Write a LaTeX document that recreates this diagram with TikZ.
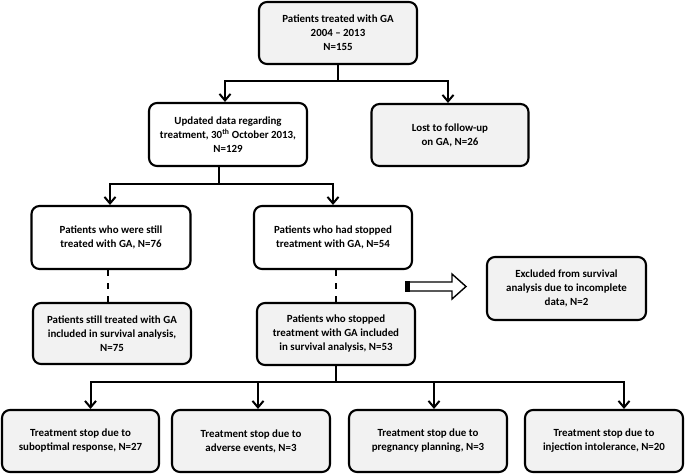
\documentclass[tikz,border=0pt]{standalone}
\usepackage{fontspec}
\setmainfont{Carlito}
\usetikzlibrary{arrows.meta}
\definecolor{boxgray}{HTML}{F2F2F2}
\begin{document}
\begin{tikzpicture}[x=1pt,y=-1pt,
  box/.style={draw=black, line width=2.1pt, rounded corners=8pt, align=center,
    font=\fontsize{10.9}{14}\selectfont\bfseries, inner sep=0pt, fill=white},
  gbox/.style={box, fill=boxgray},
  link/.style={line width=2pt},
  arr/.style={line width=2pt, -{Straight Barb[length=6.5pt,width=11pt,line width=2pt]}},
  dashlink/.style={line width=2pt, dash pattern=on 6pt off 7pt}]
\useasboundingbox (0,0) rectangle (685,475);
\node[gbox, minimum width=158pt, minimum height=62pt] (top) at (338,33) {Patients treated with GA\\2004 -- 2013\\N=155};
\node[box, minimum width=158pt, minimum height=63pt] (upd) at (228,134.5) {Updated data regarding\\treatment, 30\textsuperscript{th} October 2013,\\N=129};
\node[gbox, minimum width=157pt, minimum height=62pt] (lost) at (450,135) {Lost to follow-up\\on GA, N=26};
\node[box, minimum width=159pt, minimum height=63pt] (still) at (111,237.5) {Patients who were still\\treated with GA, N=76};
\node[box, minimum width=158pt, minimum height=63pt] (stopped) at (333,237.5) {Patients who had stopped\\treatment with GA, N=54};
\node[gbox, minimum width=159pt, minimum height=63pt] (excl) at (566.5,288.5) {Excluded from survival\\analysis due to incomplete\\data, N=2};
\node[gbox, minimum width=158pt, minimum height=61pt] (stillinc) at (112,333.5) {Patients still treated with GA\\included in survival analysis,\\N=75};
\node[gbox, minimum width=158pt, minimum height=62pt] (stopinc) at (336,334) {Patients who stopped\\treatment with GA included\\in survival analysis, N=53};
\node[gbox, minimum width=157pt, minimum height=62pt] (b1) at (80.5,441) {Treatment stop due to\\suboptimal response, N=27};
\node[gbox, minimum width=158pt, minimum height=62pt] (b2) at (251,441) {Treatment stop due to\\adverse events, N=3};
\node[gbox, minimum width=158pt, minimum height=62pt] (b3) at (428,441) {Treatment stop due to\\pregnancy planning, N=3};
\node[gbox, minimum width=158pt, minimum height=62pt] (b4) at (604,441) {Treatment stop due to\\injection intolerance, N=20};
% top split
\coordinate (j1) at ([yshift=-16pt]top.south);
\draw[link] (top.south) -- (j1);
\draw[arr] (j1) -| ([xshift=-3pt]upd.north);
\draw[arr] (j1) -| ([xshift=-2pt]lost.north);
% second split
\coordinate (j2) at ([xshift=-9pt,yshift=-17pt]upd.south);
\draw[link] ([xshift=-9pt]upd.south) -- (j2);
\draw[arr] (j2) -| ([xshift=-1pt]still.north);
\draw[arr] (j2) -| (stopped.north);
% dashed
\draw[dashlink] ([xshift=-3pt]still.south) -- ([xshift=-4pt]stillinc.north);
\draw[dashlink] ([xshift=3pt]stopped.south) -- (stopinc.north);
% hollow arrow
\draw[line width=1.4pt, fill=white] (409,282) -- (452,282) -- (452,274) -- (466,286.5) -- (452,299) -- (452,291) -- (409,291) -- cycle;
\fill[black] (405,281.3) rectangle (409.7,291.7);
% bottom split
\coordinate (j3) at ([yshift=-16pt]stopinc.south);
\draw[link] (stopinc.south) -- (j3);
\draw[arr] (j3) -| ([xshift=10pt]b1.north);
\draw[arr] (j3) -| ([xshift=7pt]b2.north);
\draw[arr] (j3) -| ([xshift=6pt]b3.north);
\draw[arr] (j3) -| ([xshift=20pt]b4.north);
\end{tikzpicture}
\end{document}
